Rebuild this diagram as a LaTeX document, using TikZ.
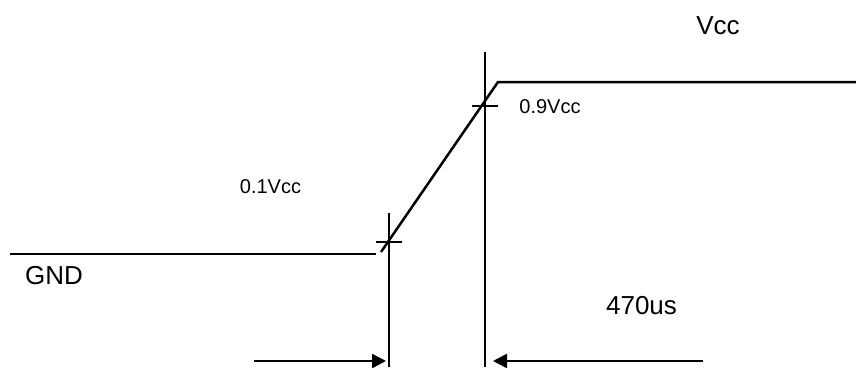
\documentclass[tikz,border=0pt]{standalone}
\usepackage{fontspec}
\setmainfont{Liberation Sans}
\usetikzlibrary{arrows.meta}
\tikzset{
  label/.style={anchor=base, inner sep=0pt, font=\fontsize{#1}{#1}\selectfont},
  dim/.style={-{Triangle[length=14pt,width=14pt]}}
}

\begin{document}
\begin{tikzpicture}[x=1pt,y=-1pt,line width=2.5pt]
\newcommand{\ylow}{254}
\newcommand{\yhigh}{82}
\newcommand{\xa}{389}
\newcommand{\xb}{485}
\newcommand{\ydim}{361}
\useasboundingbox (0,0) rectangle (856,367);

\coordinate (gndl) at (10,\ylow);
\coordinate (gndr) at (376,\ylow);
\coordinate (rampl) at (381,252);
\coordinate (rampr) at (498,\yhigh);
\coordinate (vccr) at (856,\yhigh);
\draw (gndl) -- (gndr);
\draw (rampl) -- (rampr) -- (vccr);
\draw (\xa,213) -- (\xa,367);
\draw (\xb,52) -- (\xb,367);
\draw (376,242) -- (402,242);
\draw (472,106) -- (498,106);
\coordinate (dla) at (254,\ydim);
\coordinate (dlb) at (386,\ydim);
\coordinate (dra) at (703,\ydim);
\coordinate (drb) at (493,\ydim);
\draw [dim] (dla) -- (dlb);
\draw [dim] (dra) -- (drb);

\node [label=26] (vcc) at (718,34) {Vcc};
\node [label=20] (v09) at (550,113) {0.9Vcc};
\node [label=20] (v01) at (270.5,193) {0.1Vcc};
\node [label=26] (gnd) at (54,284) {GND};
\node [label=26] (tr) at (641.5,314) {470us};
\end{tikzpicture}
\end{document}
